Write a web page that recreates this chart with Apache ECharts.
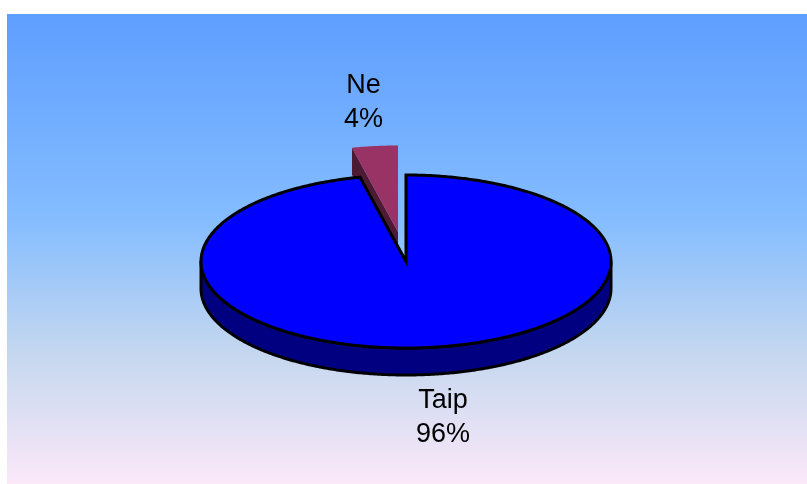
<!DOCTYPE html>
<html><head><meta charset="utf-8">
<style>html,body{margin:0;padding:0;background:#fff}#c{width:807px;height:484px}</style>
<script src="https://cdn.jsdelivr.net/npm/echarts@6/dist/echarts.min.js"></script>
</head><body><div id="c"></div>
<script>
const categories = ['Taip', 'Ne'];
const values = [96.4, 3.6];
const topColors = ['#0000ff', '#993366'];
const sideColors = ['#000080', '#4d1a33'];
const strokeWidths = [3, 0];
const explodeX = [0, -8];
const explodeY = [0, -29.5];
const labelX = [443, 363.5];
const labelY = [418, 103];

const cx = 406, cy = 261.5, rx = 205, ry = 86.5, depth = 27;
const total = values.reduce((a, b) => a + b, 0);

function pt(a, ox, oy, d) {
  return [cx + ox + rx * Math.sin(a), cy + oy - ry * Math.cos(a) + d];
}
function arc(a0, a1, ox, oy, d) {
  const n = Math.max(2, Math.ceil(Math.abs(a1 - a0) / 0.01));
  const out = [];
  for (let i = 0; i <= n; i++) out.push(pt(a0 + (a1 - a0) * i / n, ox, oy, d));
  return out;
}

function renderItem(params, api) {
  const i = params.dataIndex;
  const v = api.value(0);
  let before = 0;
  for (let k = 0; k < i; k++) before += values[k];
  const a0 = before / total * Math.PI * 2;
  const a1 = (before + v) / total * Math.PI * 2;
  const ox = explodeX[i], oy = explodeY[i];
  const lw = strokeWidths[i];
  const stroke = lw ? '#000' : null;
  const base = i === 0 ? 10 : 0;
  const children = [];

  const c = [cx + ox, cy + oy];
  if (i === 1) {
    const p = pt(a0, ox, oy, 0), q = pt(a0, ox, oy, depth);
    children.push({type: 'polygon', z2: base,
      shape: {points: [p, c, [c[0], c[1] + depth], q]},
      style: {fill: sideColors[i]}, silent: true});
  }
  const s0 = Math.max(a0, Math.PI / 2), s1 = Math.min(a1, Math.PI * 1.5);
  if (s1 > s0) {
    children.push({type: 'polygon', z2: base + 1,
      shape: {points: arc(s0, s1, ox, oy, 0).concat(arc(s1, s0, ox, oy, depth))},
      style: {fill: sideColors[i], stroke, lineWidth: lw, lineJoin: 'round'}, silent: true});
  }
  children.push({type: 'polygon', z2: base + 2,
    shape: {points: [c].concat(arc(a0, a1, ox, oy, 0))},
    style: {fill: topColors[i], stroke, lineWidth: lw, lineJoin: 'miter'}, silent: true});
  children.push({type: 'text', z2: 30, silent: true,
    style: {x: labelX[i], y: labelY[i], text: categories[i] + '\n' + Math.round(v / total * 100) + '%',
      align: 'center', verticalAlign: 'middle', fill: '#000',
      font: '27px "Liberation Sans", Arial, sans-serif', lineHeight: 34}});
  return {type: 'group', children};
}

const chart = echarts.init(document.getElementById('c'), null, {renderer: 'canvas'});
chart.setOption({
  animation: false,
  backgroundColor: '#fff',
  graphic: [{
    type: 'rect', z: -1, silent: true,
    shape: {x: 7, y: 14, width: 800, height: 470},
    style: {fill: new echarts.graphic.LinearGradient(0, 0, 0, 1, [
      {offset: 0, color: '#5e9eff'},
      {offset: 0.44, color: '#85bdff'},
      {offset: 0.72, color: '#c4d7ef'},
      {offset: 1, color: '#fbe8f8'}
    ])}
  }],
  series: [{
    type: 'custom',
    coordinateSystem: 'none',
    renderItem,
    data: values.map((v, i) => ({name: categories[i], value: [v]}))
  }]
});
</script></body></html>
